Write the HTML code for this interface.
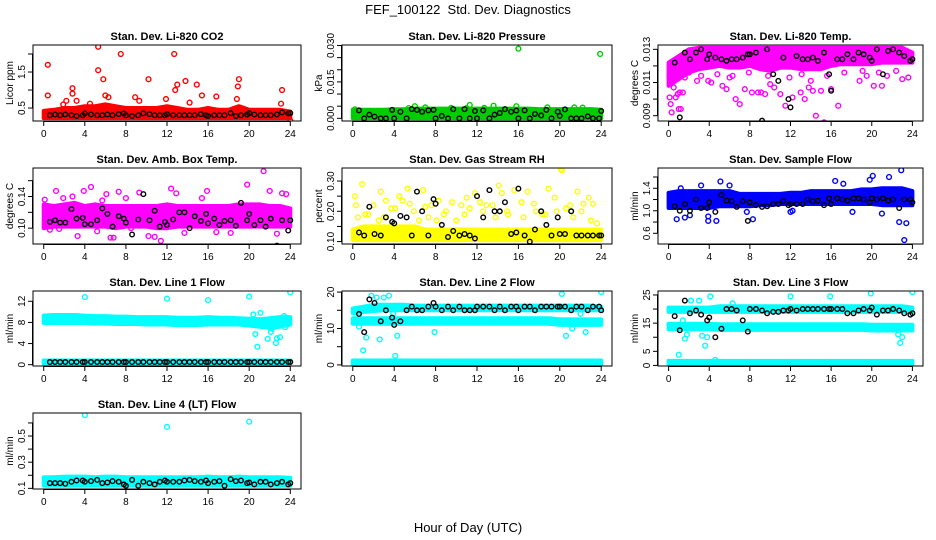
<!DOCTYPE html>
<html><head><meta charset="utf-8">
<style>
body{margin:0;background:#fff;}
svg{display:block;font-family:"Liberation Sans",sans-serif;}
</style></head>
<body>
<svg id="c" width="936" height="540" viewBox="0 0 936 540">
<text x="468" y="14" font-size="13" text-anchor="middle" xml:space="preserve">FEF_100122&#160; Std. Dev. Diagnostics</text>
<text x="468" y="532" font-size="13" text-anchor="middle">Hour of Day (UTC)</text>
</svg>
<script>
const bandHours=[0,1,2,3,4,5,6,7,8,9,10,11,12,13,14,15,16,17,18,19,20,21,22,23,24];
const blackHours=[0.6,1.1,1.6,2.1,2.7,3.2,3.8,4.0,4.6,5.2,5.7,6.2,6.7,7.3,7.8,8.0,8.6,9.2,9.7,10.3,10.8,11.3,11.8,12.0,12.6,13.2,13.7,14.2,14.7,15.3,15.8,16.0,16.6,17.1,17.6,18.2,18.7,19.2,19.8,20.0,20.5,21.1,21.6,22.1,22.7,23.2,23.8,24.0];
const xTicks=[0,4,8,12,16,20,24];

// P1 CO2
const co2BandLo=[0.22,0.22,0.22,0.22,0.22,0.22,0.22,0.22,0.22,0.22,0.22,0.22,0.22,0.22,0.22,0.22,0.22,0.22,0.22,0.22,0.22,0.22,0.22,0.22,0.22];
const co2BandHi=[0.42,0.45,0.5,0.5,0.55,0.55,0.6,0.55,0.5,0.5,0.5,0.5,0.55,0.5,0.45,0.45,0.5,0.45,0.45,0.55,0.45,0.45,0.45,0.45,0.4];
const co2OutX=[0.4,0.4,2.8,2.8,5.3,5.3,5.8,6,6.3,7.5,8.9,10.2,11.9,12.7,12.8,13,13.8,14.9,14.2,15.4,16.8,18.9,19,18.8,23.2,23.1,2.2,3.2,1.9,24,9.3,4.5];
const co2OutY=[1.7,0.85,1.05,0.9,2.2,1.55,1.3,0.85,0.8,2.0,0.8,1.3,0.75,2.0,1.0,1.15,1.25,1.15,0.65,0.85,0.82,1.1,1.3,0.75,1.0,0.62,0.7,0.7,0.6,0.15,0.7,0.62];
const co2Black=[0.3,0.32,0.3,0.32,0.3,0.28,0.3,0.35,0.32,0.3,0.3,0.32,0.3,0.33,0.35,0.3,0.28,0.3,0.35,0.33,0.3,0.3,0.3,0.33,0.3,0.3,0.3,0.3,0.3,0.33,0.3,0.28,0.3,0.3,0.3,0.36,0.28,0.3,0.32,0.36,0.32,0.3,0.3,0.3,0.32,0.38,0.35,0.36];
// P2 Pressure
const prBandLo=[0,0,0,0,0,0,0,0,0,0,0,0,0,0,0,0,0,0,0,0,0,0,0,0,0];
const prBandHi=[0.0035,0.0035,0.0035,0.0035,0.0037,0.0037,0.004,0.004,0.004,0.004,0.004,0.004,0.004,0.004,0.004,0.004,0.004,0.004,0.0038,0.0038,0.0038,0.0038,0.0038,0.0038,0.0035];
const prOutX=[0.2,6,11.3,13.6,15.8,18.8,21.4,16,23.9,7.0,11,12.7,9.5,5.4,22.2];
const prOutY=[0.0037,0.005,0.0055,0.0052,0.005,0.0045,0.0045,0.0287,0.0265,0.0045,0.0042,0.0043,0.0043,0.0042,0.0044];
const prBlack=[0.0033,0,0.0015,0.0007,0,0,0.0035,0,0.0027,0,0.0038,0.0035,0.0027,0.0033,0.0035,0,0.001,0,0.0038,0,0.0038,0,0.003,0,0.0033,0,0.0015,0.0022,0.0038,0.0027,0.0032,0,0.0033,0,0.0018,0.0012,0.0035,0,0.0027,0.001,0.0037,0,0,0,0.0008,0,0,0.003];
// P3 Li-820 temp
const tmBandLo=[0.0108,0.0112,0.0116,0.0118,0.0119,0.0120,0.0119,0.0119,0.0120,0.0118,0.0117,0.0119,0.0119,0.0118,0.0118,0.0118,0.0120,0.0121,0.0121,0.0121,0.0121,0.0122,0.0122,0.0122,0.0122];
const tmBandHi=[0.0122,0.0126,0.0130,0.0131,0.0131,0.0131,0.0131,0.0131,0.0131,0.0131,0.0131,0.0131,0.0131,0.0131,0.0131,0.0131,0.0131,0.0131,0.0131,0.0131,0.0131,0.0131,0.0131,0.0131,0.0128];
const tmOutX=[0.1,0.2,0.3,0.5,0.7,0.9,1.0,1.2,1.4,1.6,2.8,3.2,3.9,4.2,5.3,5.7,6.3,6.6,7.0,7.5,8.2,8.8,9.1,9.5,10.0,10.4,11.0,11.5,12.2,13.0,13.4,13.8,14.0,14.2,14.5,15.0,15.3,16.0,16.7,18.8,19.5,20.2,21.0,21.5,23.0,23.6,0.1,1.1,2.0,4.8,6.0,7.9,9.8,11.9,13.1,15.6,17.3,19.1,20.7,22.4];
const tmOutY=[0.0101,0.0097,0.0092,0.0107,0.0101,0.0103,0.0094,0.0094,0.0104,0.0113,0.0111,0.0114,0.0111,0.0110,0.0108,0.0106,0.0114,0.0100,0.0097,0.0106,0.0104,0.0104,0.0104,0.0103,0.0109,0.0107,0.0103,0.0096,0.0101,0.0104,0.0100,0.0107,0.0111,0.0105,0.0090,0.0105,0.0086,0.0106,0.0096,0.0111,0.0114,0.0108,0.0108,0.0114,0.0112,0.0113,0.0114,0.0104,0.0116,0.0115,0.0113,0.0116,0.0114,0.0113,0.0115,0.0114,0.0116,0.0117,0.0116,0.0117];
const tmBlack=[0.0122,0.0089,0.0128,0.0124,0.0128,0.0130,0.0124,0.0127,0.0125,0.0124,0.0123,0.0124,0.0124,0.0125,0.0127,0.0127,0.0128,0.0087,0.0130,0.0115,0.0111,0.0125,0.0100,0.0095,0.0126,0.0124,0.0124,0.0125,0.0123,0.0128,0.0115,0.0105,0.0124,0.0124,0.0127,0.0124,0.0128,0.0127,0.0125,0.0123,0.0130,0.0115,0.0129,0.0130,0.0128,0.0126,0.0123,0.0124];
// P4 Amb box temp
const abBandLo=[0.100,0.102,0.102,0.102,0.102,0.102,0.102,0.100,0.102,0.102,0.102,0.100,0.100,0.102,0.102,0.102,0.102,0.102,0.102,0.102,0.102,0.102,0.102,0.102,0.102];
const abBandHi=[0.130,0.128,0.130,0.132,0.128,0.130,0.128,0.128,0.128,0.128,0.128,0.128,0.130,0.128,0.128,0.128,0.128,0.128,0.128,0.130,0.130,0.130,0.128,0.128,0.125];
const abOutX=[0.1,0.6,1.2,1.9,2.8,3.3,3.9,4.6,5.2,6.1,6.5,6.8,7.3,8.0,8.5,9.3,10.2,10.8,11.4,12.4,12.9,13.7,15.4,15.9,16.8,18.2,19.8,21.4,22.0,22.7,23.2,23.6,0.2,1.5,5.7];
const abOutY=[0.136,0.098,0.147,0.138,0.140,0.090,0.147,0.152,0.096,0.143,0.088,0.088,0.146,0.138,0.100,0.145,0.090,0.089,0.084,0.150,0.144,0.094,0.138,0.147,0.095,0.094,0.155,0.172,0.147,0.093,0.144,0.143,0.126,0.099,0.135];
const abBlack=[0.108,0.110,0.107,0.107,0.124,0.112,0.113,0.105,0.105,0.110,0.125,0.118,0.102,0.115,0.112,0.107,0.092,0.111,0.143,0.110,0.122,0.102,0.108,0.104,0.111,0.120,0.120,0.100,0.115,0.109,0.118,0.106,0.112,0.104,0.109,0.110,0.103,0.132,0.110,0.118,0.104,0.110,0.102,0.112,0.078,0.110,0.097,0.110];
// P5 Gas stream RH
const rhBandLo=[0.105,0.105,0.105,0.105,0.105,0.105,0.105,0.105,0.105,0.105,0.105,0.105,0.105,0.105,0.105,0.105,0.105,0.105,0.105,0.105,0.105,0.105,0.105,0.105,0.105];
const rhBandHi=[0.14,0.15,0.15,0.15,0.15,0.15,0.15,0.14,0.14,0.14,0.14,0.14,0.14,0.14,0.14,0.14,0.14,0.14,0.14,0.14,0.14,0.14,0.14,0.14,0.14];
const rhOutX=[0.2,0.3,0.9,1.5,2.0,2.7,3.2,3.7,4.5,4.8,5.3,5.5,6.8,7.0,7.6,8.3,8.8,9.6,10.5,11.0,11.3,11.8,12.3,12.9,13.5,14.1,14.4,15.0,15.6,16.3,16.9,17.5,18.3,18.9,19.5,20.1,20.2,20.6,21.0,21.7,22.3,22.8,23.2,23.6,0.5,1.2,2.5,3.0,4.1,5.9,6.4,7.3,8.1,9.0,10.0,10.8,12.6,13.8,14.9,16.5,17.7,18.6,19.7,21.3,22.1,23.0];
const rhOutY=[0.25,0.22,0.29,0.19,0.22,0.265,0.235,0.21,0.25,0.235,0.275,0.225,0.27,0.215,0.22,0.235,0.19,0.23,0.22,0.245,0.21,0.26,0.23,0.22,0.22,0.285,0.26,0.19,0.27,0.23,0.265,0.225,0.19,0.275,0.245,0.34,0.335,0.21,0.22,0.265,0.225,0.245,0.225,0.16,0.18,0.19,0.17,0.18,0.21,0.2,0.17,0.18,0.17,0.2,0.17,0.19,0.2,0.18,0.2,0.18,0.2,0.19,0.2,0.18,0.2,0.17];
const rhBlack=[0.13,0.12,0.215,0.125,0.12,0.18,0.165,0.16,0.185,0.18,0.12,0.265,0.20,0.12,0.24,0.225,0.155,0.115,0.135,0.12,0.125,0.12,0.11,0.25,0.18,0.27,0.20,0.20,0.23,0.125,0.13,0.275,0.12,0.10,0.14,0.20,0.155,0.12,0.18,0.125,0.125,0.20,0.12,0.12,0.12,0.12,0.12,0.12];
// P6 Sample flow
const sfBandLo=[1.05,1.05,1.05,1.05,1.05,1.08,1.08,1.08,1.08,1.1,1.1,1.12,1.12,1.12,1.12,1.12,1.12,1.12,1.12,1.12,1.12,1.1,1.1,1.1,1.1];
const sfBandHi=[1.32,1.35,1.35,1.35,1.35,1.35,1.35,1.3,1.3,1.3,1.3,1.3,1.32,1.32,1.35,1.35,1.35,1.35,1.35,1.38,1.38,1.4,1.4,1.4,1.35];
const sfOutX=[0.8,1.6,2.1,3.2,3.9,4.7,5.1,6.0,7.7,8.3,12.0,12.2,16.4,17.2,18.1,19.8,20.1,21.0,21.7,22.7,22.9,23.2,23.4,3.9,1.2];
const sfOutY=[0.85,0.88,0.92,1.45,0.82,0.82,1.52,1.45,0.98,0.85,0.98,1.0,1.53,1.48,0.98,1.55,1.62,0.95,1.6,0.8,1.72,0.48,0.78,0.9,1.4];
const sfBlack=[1.08,1.0,1.12,1.0,1.2,1.05,1.05,1.15,0.98,1.28,1.18,1.17,1.07,1.17,0.82,1.15,1.1,1.07,1.08,1.12,1.12,1.17,1.1,1.12,1.12,1.12,1.2,1.17,1.18,1.1,1.22,1.12,1.22,1.2,1.18,1.22,1.22,1.2,1.15,1.22,1.2,1.22,1.18,1.2,1.05,1.2,1.2,1.15];
// P7 Line 1
const l1BandLo=[7.9,7.9,7.9,7.9,7.9,7.8,7.8,7.7,7.7,7.7,7.6,7.6,7.6,7.5,7.5,7.5,7.6,7.6,7.6,7.6,7.4,7.2,7.0,7.2,7.6];
const l1BandHi=[9.3,9.4,9.4,9.4,9.3,9.2,9.2,9.1,9.1,9.0,9.0,9.0,9.0,8.9,8.9,8.9,9.0,8.9,8.9,8.8,8.7,8.6,8.8,9.0,9.0];
const l1Band2Lo=[0.2,0.2,0.2,0.2,0.2,0.2,0.2,0.2,0.2,0.2,0.2,0.2,0.2,0.2,0.2,0.2,0.2,0.2,0.2,0.2,0.2,0.2,0.2,0.2,0.2];
const l1Band2Hi=[0.8,0.8,0.8,0.8,0.8,0.8,0.8,0.8,0.8,0.8,0.8,0.8,0.8,0.8,0.8,0.8,0.8,0.8,0.8,0.8,0.8,0.8,0.8,0.8,0.8];
const l1OutX=[4,12,16,20,24,20.4,21.1,20.6,20.8,21.8,22.1,22.6,22.7,23.0,23.2,23.4,23.5,22.2];
const l1OutY=[12.8,12.5,12.2,12.9,13.7,9.5,9.8,5.8,3.4,4.9,6.2,4.1,5.0,5.2,7.8,9.2,7.1,6.8];
const l1Black=[0.5,0.5,0.5,0.5,0.5,0.5,0.5,0.5,0.5,0.5,0.5,0.5,0.5,0.5,0.5,0.5,0.5,0.5,0.5,0.5,0.5,0.5,0.5,0.5,0.5,0.5,0.5,0.5,0.5,0.5,0.5,0.5,0.5,0.5,0.5,0.5,0.5,0.5,0.5,0.5,0.5,0.5,0.5,0.5,0.5,0.5,0.5,0.5];
// P8 Line 2
const l2BandLo=[11.3,11.3,11.3,11.3,11.3,11.3,11.3,11.3,11.3,11.3,11.3,11.3,11.3,11.3,11.3,11.3,11.3,11.3,11.3,11.3,11.0,11.0,11.0,11.0,11.0];
const l2BandHi=[12.8,12.8,12.8,12.8,12.8,12.8,12.8,12.8,12.8,12.8,12.8,12.8,12.8,12.8,12.8,12.8,12.8,12.8,12.8,12.8,12.5,12.5,12.5,12.5,12.5];
const l2Band2Lo=[14.2,14.5,14.8,15.0,15.0,15.0,15.0,15.0,15.0,15.0,15.0,15.0,15.0,15.0,15.0,15.0,15.0,15.0,15.0,15.0,15.0,15.0,15.0,15.0,15.0];
const l2Band2Hi=[15.5,16.0,16.5,16.5,16.5,16.5,16.3,16.3,16.3,16.3,16.3,16.3,16.3,16.3,16.3,16.3,16.3,16.3,16.3,16.3,16.3,16.3,16.3,16.3,16.0];
const l2Band3Lo=[0.2,0.2,0.2,0.2,0.2,0.2,0.2,0.2,0.2,0.2,0.2,0.2,0.2,0.2,0.2,0.2,0.2,0.2,0.2,0.2,0.2,0.2,0.2,0.2,0.2];
const l2Band3Hi=[1.2,1.2,1.2,1.2,1.2,1.2,1.2,1.2,1.2,1.2,1.2,1.2,1.2,1.2,1.2,1.2,1.2,1.2,1.2,1.2,1.2,1.2,1.2,1.2,1.2];
const l2OutX=[0.6,1.0,1.3,1.8,2.3,3.0,3.5,3.9,4.1,4.6,7.9,20.2,20.6,21.2,22.0,22.5,23.2,24,2.6,4.3];
const l2OutY=[10.5,4,7.5,19,18.5,18.5,19,14,2.5,12,9,19.5,8,10,14,9,12,20,7,8];
const l2Black=[14,9,18,17,12,15,13,11,12,15,16,15,15,16,17,16,15,16,15,16,15,15,15,16,16,16,15,16,15,16,16,15,16,16,15,16,16,16,16,16,16,15,16,16,15,16,16,15];
// P9 Line 3
const l3BandLo=[12.8,12.8,12.8,12.8,12.8,12.6,12.6,12.6,12.6,12.6,12.6,12.6,12.6,12.6,12.6,12.6,12.6,12.6,12.6,12.6,12.4,12.4,12.4,12.4,12.4];
const l3BandHi=[14.8,14.8,14.8,14.8,14.8,14.6,14.6,14.6,14.6,14.6,14.6,14.6,14.6,14.6,14.6,14.6,14.6,14.6,14.6,14.6,14.4,14.4,14.4,14.4,14.4];
const l3Band2Lo=[19.0,19.0,19.0,19.0,19.0,19.0,19.0,19.0,19.0,19.0,19.0,19.0,19.0,19.0,19.0,19.0,19.0,19.0,19.0,19.0,19.0,19.0,19.0,19.0,19.0];
const l3Band2Hi=[20.5,20.5,20.5,20.5,20.5,21.0,21.0,21.0,21.0,21.0,21.0,21.0,21.0,21.0,21.0,21.0,21.0,21.0,21.0,21.0,21.0,21.0,21.0,21.0,20.5];
const l3Band3Lo=[0.5,0.5,0.5,0.5,0.5,0.5,0.5,0.5,0.5,0.5,0.5,0.5,0.5,0.5,0.5,0.5,0.5,0.5,0.5,0.5,0.5,0.5,0.5,0.5,0.5];
const l3Band3Hi=[1.6,1.6,1.6,1.6,1.6,1.6,1.6,1.6,1.6,1.6,1.6,1.6,1.6,1.6,1.6,1.6,1.6,1.6,1.6,1.6,1.6,1.6,1.6,1.6,1.6];
const l3OutX=[0.9,1.0,1.4,1.6,2.2,3.0,3.6,3.8,4.1,4.6,12.0,15.9,19.9,24,22.6,22.8,23.0,3.3,1.8,6.3];
const l3OutY=[19.5,3.8,16,9.5,23,23,7,10,24.5,2,24.5,24.5,25.5,26,11,8,10,10.5,11,22];
const l3Black=[17.5,12.5,23,18.5,19.5,18,16,17,10,13,20,20,19.5,16,12,20,20,19.5,18.5,19,19,19.5,19.5,20,19.5,20,20,20,20,20,20,20,20,20,18.5,18.5,19.5,20,19.5,20.5,18,19.5,19.5,20,19.5,18.5,18,18.5];
// P10 Line 4
const l4BandLo=[0.12,0.12,0.12,0.12,0.12,0.12,0.12,0.12,0.12,0.12,0.12,0.12,0.12,0.12,0.12,0.12,0.12,0.12,0.12,0.12,0.12,0.12,0.12,0.12,0.12];
const l4BandHi=[0.185,0.185,0.19,0.19,0.19,0.185,0.19,0.19,0.185,0.185,0.185,0.185,0.185,0.185,0.185,0.185,0.19,0.185,0.185,0.19,0.185,0.185,0.185,0.185,0.18];
const l4OutX=[4,12,20];
const l4OutY=[0.66,0.57,0.61];
const l4Black=[0.14,0.14,0.14,0.135,0.15,0.16,0.16,0.15,0.155,0.165,0.14,0.145,0.155,0.15,0.13,0.12,0.165,0.12,0.15,0.14,0.13,0.15,0.16,0.15,0.15,0.15,0.16,0.165,0.155,0.15,0.16,0.14,0.15,0.155,0.12,0.17,0.155,0.16,0.14,0.145,0.13,0.15,0.15,0.13,0.14,0.15,0.13,0.14];

const cols=[[33,301],[342,612],[658,923]];
const rows=[[45,121],[168,244],[291,366],[413,489]];
const panels=[
 {name:'co2',title:'Stan. Dev. Li-820 CO2',yl:'Licor ppm',c:0,r:0,ymin:0.14,ymax:2.25,ticks:[0.5,1,1.5,2],labs:[0.5,1.5],fmt:1,col:'#ff0000',bands:[[co2BandLo,co2BandHi]],ox:co2OutX,oy:co2OutY,bk:co2Black},
 {name:'pressure',title:'Stan. Dev. Li-820 Pressure',yl:'kPa',c:1,r:0,ymin:-0.0011,ymax:0.0302,ticks:[0,0.005,0.01,0.015,0.02,0.025,0.03],labs:[0,0.015,0.03],fmt:3,col:'#00cc00',bands:[[prBandLo,prBandHi]],ox:prOutX,oy:prOutY,bk:prBlack},
 {name:'li820-temp',title:'Stan. Dev. Li-820 Temp.',yl:'degrees C',c:2,r:0,ymin:0.00868,ymax:0.01326,ticks:[0.009,0.01,0.011,0.012,0.013],labs:[0.009,0.011,0.013],fmt:3,col:'#ff00ff',bands:[[tmBandLo,tmBandHi]],ox:tmOutX,oy:tmOutY,bk:tmBlack},
 {name:'amb-box-temp',title:'Stan. Dev. Amb. Box Temp.',yl:'degrees C',c:0,r:1,ymin:0.080,ymax:0.176,ticks:[0.10,0.12,0.14,0.16],labs:[0.10,0.14],fmt:2,col:'#ff00ff',bands:[[abBandLo,abBandHi]],ox:abOutX,oy:abOutY,bk:abBlack},
 {name:'gas-stream-rh',title:'Stan. Dev. Gas Stream RH',yl:'percent',c:1,r:1,ymin:0.092,ymax:0.343,ticks:[0.10,0.15,0.20,0.25,0.30],labs:[0.10,0.20,0.30],fmt:2,col:'#ffff00',bands:[[rhBandLo,rhBandHi]],ox:rhOutX,oy:rhOutY,bk:rhBlack},
 {name:'sample-flow',title:'Stan. Dev. Sample Flow',yl:'ml/min',c:2,r:1,ymin:0.41,ymax:1.76,ticks:[0.6,0.8,1.0,1.2,1.4,1.6],labs:[0.6,1.0,1.4],fmt:1,col:'#0000ff',bands:[[sfBandLo,sfBandHi]],ox:sfOutX,oy:sfOutY,bk:sfBlack},
 {name:'line1-flow',title:'Stan. Dev. Line 1 Flow',yl:'ml/min',c:0,r:2,ymin:-0.25,ymax:13.95,ticks:[0,4,8,12],labs:[0,4,8,12],fmt:0,col:'#00ffff',bands:[[l1BandLo,l1BandHi],[l1Band2Lo,l1Band2Hi]],ox:l1OutX,oy:l1OutY,bk:l1Black},
 {name:'line2-flow',title:'Stan. Dev. Line 2 Flow',yl:'ml/min',c:1,r:2,ymin:-0.3,ymax:20.3,ticks:[0,5,10,15,20],labs:[0,10,20],fmt:0,col:'#00ffff',bands:[[l2BandLo,l2BandHi],[l2Band2Lo,l2Band2Hi],[l2Band3Lo,l2Band3Hi]],ox:l2OutX,oy:l2OutY,bk:l2Black},
 {name:'line3-flow',title:'Stan. Dev. Line 3 Flow',yl:'ml/min',c:2,r:2,ymin:-0.2,ymax:26.4,ticks:[0,5,10,15,20,25],labs:[0,5,15,25],fmt:0,col:'#00ffff',bands:[[l3BandLo,l3BandHi],[l3Band2Lo,l3Band2Hi],[l3Band3Lo,l3Band3Hi]],ox:l3OutX,oy:l3OutY,bk:l3Black},
 {name:'line4-flow',title:'Stan. Dev. Line 4 (LT) Flow',yl:'ml/min',c:0,r:3,ymin:0.095,ymax:0.676,ticks:[0.1,0.2,0.3,0.4,0.5,0.6],labs:[0.1,0.3,0.5],fmt:1,col:'#00ffff',bands:[[l4BandLo,l4BandHi]],ox:l4OutX,oy:l4OutY,bk:l4Black}
];
const NS='http://www.w3.org/2000/svg';
const svg=document.getElementById('c');
function mk(tag,attrs,parent){const e=document.createElementNS(NS,tag);for(const k in attrs)e.setAttribute(k,attrs[k]);parent.appendChild(e);return e;}
panels.forEach(p=>{
 const [x0,x1]=cols[p.c],[y0,y1]=rows[p.r];
 const w=x1-x0;
 const xs=h=>x0+w*0.04+(w*0.92)*h/24;
 const ys=v=>y1-(v-p.ymin)/(p.ymax-p.ymin)*(y1-y0);
 const g=mk('g',{},svg);
 
 
 const t=mk('text',{x:(x0+x1)/2,y:y0-5,'font-size':11,'font-weight':'bold','text-anchor':'middle'},g);
 t.textContent=p.title;
 
 
 const cp='clip-'+p.name;
 const cl=mk('clipPath',{id:cp},g);mk('rect',{x:x0,y:y0,width:w,height:y1-y0},cl);
 const pg=mk('g',{'clip-path':'url(#'+cp+')'},g);
 p.bands.forEach((b,bi)=>{
  let d='';
  bandHours.forEach((h,i)=>{d+=(i?'L':'M')+xs(h).toFixed(1)+','+ys(b[1][i]).toFixed(1);});
  for(let i=bandHours.length-1;i>=0;i--)d+='L'+xs(bandHours[i]).toFixed(1)+','+ys(b[0][i]).toFixed(1);
  const pa=mk('path',{d:d+'Z',fill:p.col,stroke:p.col,'stroke-width':4,'stroke-linejoin':'round'},pg);
  
  
 });
 p.ox.forEach((h,i)=>{
  const c=mk('circle',{cx:xs(h),cy:ys(p.oy[i]),r:2.4,fill:'none',stroke:p.col,'stroke-width':1.4},pg);
  
  
 });
 blackHours.forEach((h,i)=>{
  const c=mk('circle',{cx:xs(h),cy:ys(p.bk[i]),r:2.3,fill:'none',stroke:'#000','stroke-width':1.4},pg);
  
  
 });
 const box=mk('rect',{x:x0,y:y0,width:w,height:y1-y0,fill:'none',stroke:'#000','stroke-width':1},g);
 
 
 mk('line',{x1:xs(0),x2:xs(24),y1:y1+0.5,y2:y1+0.5,stroke:'#000'},g);
 xTicks.forEach(h=>{
  mk('line',{x1:xs(h),x2:xs(h),y1:y1,y2:y1+5,stroke:'#000'},g);
  const tx=mk('text',{x:xs(h),y:y1+16,'font-size':10,'text-anchor':'middle'},g);
  tx.textContent=h;
  
  
 });
 mk('line',{x1:x0-0.5,x2:x0-0.5,y1:ys(p.ticks[0]),y2:ys(p.ticks[p.ticks.length-1]),stroke:'#000'},g);
 p.ticks.forEach(v=>{mk('line',{x1:x0-5,x2:x0,y1:ys(v),y2:ys(v),stroke:'#000'},g);});
 p.labs.forEach(v=>{
  const yy=ys(v);
  const tx=mk('text',{x:x0-8,y:yy,'font-size':10,'text-anchor':'middle',transform:'rotate(-90 '+(x0-8)+' '+yy+')'},g);
  tx.textContent=v.toFixed(p.fmt);
  
  
 });
 const ym=(y0+y1)/2;
 const yl=mk('text',{x:x0-20,y:ym,'font-size':10,'text-anchor':'middle',transform:'rotate(-90 '+(x0-20)+' '+ym+')'},g);
 yl.textContent=p.yl;
 
 
});
</script>
</body></html>
